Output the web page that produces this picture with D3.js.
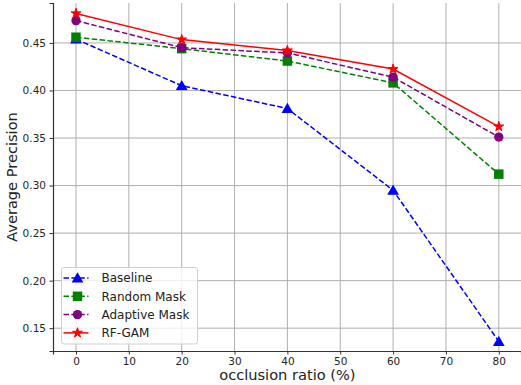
<!DOCTYPE html>
<html>
<head>
<meta charset="utf-8">
<script src="https://cdn.jsdelivr.net/npm/d3@7"></script>
<style>
  body { margin: 0; background: #fff; }
  svg { display: block; font-family: "DejaVu Sans", sans-serif; }
</style>
</head>
<body>
<div id="app"></div>
<script>
// data
let ratios = [0, 20, 40, 60, 80]
let baseline = [0.454, 0.405, 0.381, 0.295, 0.136]
let randomMask = [0.456, 0.444, 0.431, 0.408, 0.312]
let adaptiveMask = [0.4735, 0.445, 0.4395, 0.414, 0.351]
let rfGam = [0.481, 0.4535, 0.442, 0.4225, 0.362]
let xTicks = [0, 10, 20, 30, 40, 50, 60, 70, 80]
let yTicks = [0.15, 0.20, 0.25, 0.30, 0.35, 0.40, 0.45]

let series = [
  {name: "Baseline", values: baseline, color: "blue", dash: "5.5,2.4", marker: "triangle"},
  {name: "Random Mask", values: randomMask, color: "green", dash: "5.5,2.4", marker: "square"},
  {name: "Adaptive Mask", values: adaptiveMask, color: "purple", dash: "5.5,2.4", marker: "circle"},
  {name: "RF-GAM", values: rfGam, color: "red", dash: null, marker: "star"}
]

let width = 521, height = 385
let margin = {top: 3, right: 0, bottom: 34, left: 53}

let svg = d3.select("#app").append("svg")
    .attr("width", width)
    .attr("height", height)

let x = d3.scaleLinear().domain([-4.35, 84.2]).range([margin.left, width - margin.right])
let y = d3.scaleLinear().domain([0.126, 0.492]).range([height - margin.bottom, margin.top])

// grid
let grid = svg.append("g").attr("stroke", "#b0b0b0").attr("stroke-width", 1)
grid.selectAll(".gx").data(xTicks).enter().append("line")
    .attr("x1", d => x(d)).attr("x2", d => x(d))
    .attr("y1", y.range()[0]).attr("y2", y.range()[1])
grid.selectAll(".gy").data(yTicks).enter().append("line")
    .attr("y1", d => y(d)).attr("y2", d => y(d))
    .attr("x1", x.range()[0]).attr("x2", x.range()[1])

// axes
let xAxis = svg.append("g")
    .attr("transform", "translate(0," + y.range()[0] + ")")
    .call(d3.axisBottom(x).tickValues(xTicks).tickFormat(d3.format("d")).tickSize(3.5).tickPadding(3.5))
let yAxis = svg.append("g")
    .attr("transform", "translate(" + x.range()[0] + ",0)")
    .call(d3.axisLeft(y).tickValues(yTicks).tickFormat(d3.format(".2f")).tickSize(3.5).tickPadding(3.5))

for (let ax of [xAxis, yAxis]) {
  ax.select(".domain").attr("stroke", "#333").attr("stroke-width", 1.2)
  ax.selectAll(".tick line").attr("stroke", "#333")
  ax.selectAll(".tick text").attr("fill", "#262626").attr("font-size", 10.5)
    .attr("font-family", "DejaVu Sans")
}

svg.append("text")
    .attr("x", x(40))
    .attr("y", 380)
    .attr("text-anchor", "middle")
    .attr("font-size", 14.6)
    .attr("fill", "#222")
    .text("occlusion ratio (%)")

svg.append("text")
    .attr("transform", "translate(17," + ((y.range()[0] + y.range()[1]) / 2) + ") rotate(-90)")
    .attr("text-anchor", "middle")
    .attr("font-size", 14.6)
    .attr("fill", "#222")
    .text("Average Precision")

// marker shapes
let symbols = {
  triangle: d3.symbol().type(d3.symbolTriangle).size(60),
  square: d3.symbol().type(d3.symbolSquare).size(90),
  circle: d3.symbol().type(d3.symbolCircle).size(68),
  star: d3.symbol().type(d3.symbolStar).size(30)
}

let line = d3.line().x(d => x(d[0])).y(d => y(d[1]))

series.forEach(s => {
  let pts = ratios.map((r, i) => [r, s.values[i]])
  svg.append("path")
      .datum(pts)
      .attr("fill", "none")
      .attr("stroke", s.color)
      .attr("stroke-width", 1.5)
      .attr("stroke-dasharray", s.dash)
      .attr("d", line)
  svg.selectAll(null).data(pts).enter().append("path")
      .attr("transform", d => "translate(" + x(d[0]) + "," + (y(d[1]) + (s.marker == "triangle" ? 1 : 0)) + ")")
      .attr("d", symbols[s.marker]())
      .attr("fill", s.color)
      .attr("stroke", s.marker == "star" ? s.color : "none")
      .attr("stroke-width", 1)
})

// legend
let legend = svg.append("g").attr("transform", "translate(61.5,267.5)")
legend.append("rect")
    .attr("width", 136).attr("height", 76.5).attr("rx", 2.5)
    .attr("fill", "white").attr("fill-opacity", 0.8)
    .attr("stroke", "#d0d0d0")

let rows = legend.selectAll(".row").data(series).enter().append("g")
    .attr("transform", (d, i) => "translate(0," + (10.5 + i * 18.3) + ")")
rows.append("line")
    .attr("x1", 2).attr("x2", 27)
    .attr("stroke", d => d.color)
    .attr("stroke-width", 1.5)
    .attr("stroke-dasharray", d => d.dash)
rows.append("path")
    .attr("transform", d => "translate(16," + (d.marker == "triangle" ? 1 : 0) + ")")
    .attr("d", d => symbols[d.marker]())
    .attr("fill", d => d.color)
    .attr("stroke", d => d.marker == "star" ? d.color : "none")
rows.append("text")
    .attr("x", 40).attr("dy", "0.35em")
    .attr("font-size", 12)
    .attr("fill", "#222")
    .text(d => d.name)
</script>
</body>
</html>
